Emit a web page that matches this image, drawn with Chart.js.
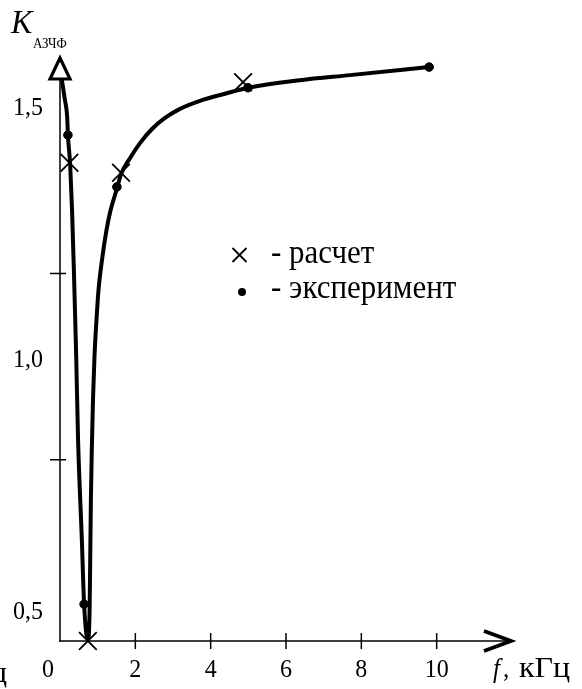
<!DOCTYPE html>
<html>
<head>
<meta charset="utf-8">
<script src="https://cdn.jsdelivr.net/npm/chart.js@4.4.1/dist/chart.umd.min.js"></script>
<style>
html,body{margin:0;padding:0;background:#fff;}
canvas{display:block;}
</style>
</head>
<body>
<canvas id="c" width="582" height="689"></canvas>
<script>
// Smooth curve (f, kHz -> K)
const curveF = [0.05,0.13,0.19,0.21,0.27,0.32,0.37,0.43,0.48,0.58,0.64,0.74,0.786,0.802,0.820,0.844,0.876,0.916,0.969,1.022,1.115,1.234,1.341,1.513,1.619,1.858,2.124,2.442,2.787,3.185,3.716,4.380,4.991,6.371,7.698,9.796];
const curveK = [1.554,1.515,1.481,1.445,1.386,1.296,1.173,1.006,0.839,0.641,0.513,0.442,0.502,0.601,0.720,0.819,0.919,1.006,1.078,1.137,1.197,1.256,1.295,1.339,1.367,1.399,1.429,1.457,1.479,1.497,1.513,1.527,1.539,1.554,1.564,1.580];
// "расчет" (crosses)
const calcF = [0.25,0.74,1.62,4.86];
const calcK = [1.39,0.44,1.37,1.55];
// "эксперимент" (dots)
const expF = [0.21,0.64,1.51,4.99,9.80];
const expK = [1.445,0.513,1.342,1.539,1.580];
// axis ticks / labels
const xTickValues = [0,2,4,6,8,10];
const xTickLabels = ['0','2','4','6','8','10'];
const yLabelValues = [0.5,1.0,1.5];
const yLabels = ['0,5','1,0','1,5'];
const yMarkValues = [0.80,1.17];
const legendLabels = ['- расчет','- эксперимент'];

const SERIF = '"Liberation Serif","Times New Roman",serif';

function txt(ctx, s, x, y, font, align, sy){
  ctx.save();
  ctx.translate(x,y);
  ctx.scale(1, sy||1.08);
  ctx.font = font;
  ctx.textAlign = align||'left';
  ctx.textBaseline = 'alphabetic';
  ctx.fillStyle = '#000';
  ctx.fillText(s,0,0);
  ctx.restore();
}

const axesPlugin = {
  id:'axesPlugin',
  beforeDatasetsDraw(chart){
    const ctx = chart.ctx, xs = chart.scales.x, ys = chart.scales.y;
    const x0 = xs.getPixelForValue(0), y0 = ys.getPixelForValue(ys.min);
    const yTop = ys.getPixelForValue(ys.max);
    const xEnd = xs.getPixelForValue(xs.max);
    ctx.save();
    ctx.strokeStyle='#000'; ctx.lineCap='butt';
    ctx.lineWidth=1.5;
    ctx.beginPath(); ctx.moveTo(x0, y0+0.5); ctx.lineTo(x0, yTop+22); ctx.stroke();
    ctx.beginPath(); ctx.moveTo(x0-1, y0); ctx.lineTo(xEnd-2, y0); ctx.stroke();
    // y arrow (open triangle)
    ctx.lineWidth=3.2; ctx.lineJoin='miter';
    ctx.beginPath(); ctx.moveTo(x0, yTop+1); ctx.lineTo(x0-10, yTop+22); ctx.lineTo(x0+10, yTop+22); ctx.closePath();
    ctx.fillStyle='#fff'; ctx.fill(); ctx.stroke();
    // x arrow (chevron)
    ctx.lineWidth=3.8;
    ctx.beginPath(); ctx.moveTo(xEnd-28, y0-10); ctx.lineTo(xEnd-1, y0); ctx.lineTo(xEnd-28, y0+10); ctx.stroke();
    // tick marks
    ctx.lineWidth=1.5;
    xTickValues.forEach(v=>{ if(v===0) return; const p=xs.getPixelForValue(v);
      ctx.beginPath(); ctx.moveTo(p, y0-8); ctx.lineTo(p, y0+8); ctx.stroke(); });
    yMarkValues.forEach(v=>{ const p=ys.getPixelForValue(v);
      ctx.beginPath(); ctx.moveTo(x0-10, p); ctx.lineTo(x0+6, p); ctx.stroke(); });
    ctx.restore();
  },
  afterDraw(chart){
    const ctx = chart.ctx, xs = chart.scales.x, ys = chart.scales.y;
    const x0 = xs.getPixelForValue(0), y0 = ys.getPixelForValue(ys.min);
    const F = '24px '+SERIF;
    xTickValues.forEach((v,i)=>{ let p=xs.getPixelForValue(v); if(v===0) p-=12;
      txt(ctx, xTickLabels[i], p, y0+36, F, 'center'); });
    yLabelValues.forEach((v,i)=>{ const p=ys.getPixelForValue(v);
      txt(ctx, yLabels[i], x0-17, p+8, F, 'right'); });
    // axis titles
    txt(ctx, 'f', 493, y0+36, 'italic 25px '+SERIF, 'left');
    txt(ctx, ',', 503, y0+36, '25px '+SERIF, 'left');
    txt(ctx, 'кГц', 519, y0+36, '32px '+SERIF, 'left', 0.95);
    txt(ctx, 'кГц', 7, y0+41, '32px '+SERIF, 'right', 0.95);
    txt(ctx, 'K', 11, 33, 'italic 32px '+SERIF, 'left');
    txt(ctx, 'АЗЧФ', 33, 48, '13px '+SERIF, 'left');
    // legend
    ctx.save();
    ctx.strokeStyle='#000'; ctx.lineWidth=1.8;
    const cx=239.5, cy=255, h=7;
    ctx.beginPath(); ctx.moveTo(cx-h,cy-h); ctx.lineTo(cx+h,cy+h); ctx.moveTo(cx+h,cy-h); ctx.lineTo(cx-h,cy+h); ctx.stroke();
    ctx.fillStyle='#000'; ctx.beginPath(); ctx.arc(242,292,4,0,Math.PI*2); ctx.fill();
    ctx.restore();
    txt(ctx, legendLabels[0], 271, 263, '31px '+SERIF, 'left');
    txt(ctx, legendLabels[1], 271, 298, '31px '+SERIF, 'left');
  }
};

const curve = curveF.map((f,i)=>({x:f, y:curveK[i]}));
const calc = calcF.map((f,i)=>({x:f, y:calcK[i]}));
const exp = expF.map((f,i)=>({x:f, y:expK[i]}));

new Chart(document.getElementById('c'), {
  type:'scatter',
  data:{datasets:[
    {label:'curve', data:curve, showLine:true, borderColor:'#000', borderWidth:4, pointRadius:0, cubicInterpolationMode:'monotone', clip:false, order:3},
    {label:'расчет', data:calc, showLine:false, pointStyle:'crossRot', pointRadius:12.5, borderColor:'#000', pointBorderWidth:1.8, clip:false, order:1},
    {label:'эксперимент', data:exp, showLine:false, pointStyle:'circle', pointRadius:4.3, backgroundColor:'#000', borderColor:'#000', pointBorderWidth:1, clip:false, order:2}
  ]},
  options:{
    responsive:false, animation:false, devicePixelRatio:1,
    layout:{padding:{left:60, right:70, top:57, bottom:48}},
    plugins:{legend:{display:false}, tooltip:{enabled:false}},
    scales:{
      x:{type:'linear', min:0, max:12, display:false},
      y:{type:'linear', min:0.44, max:1.6, display:false}
    }
  },
  plugins:[axesPlugin]
});
</script>
</body>
</html>
